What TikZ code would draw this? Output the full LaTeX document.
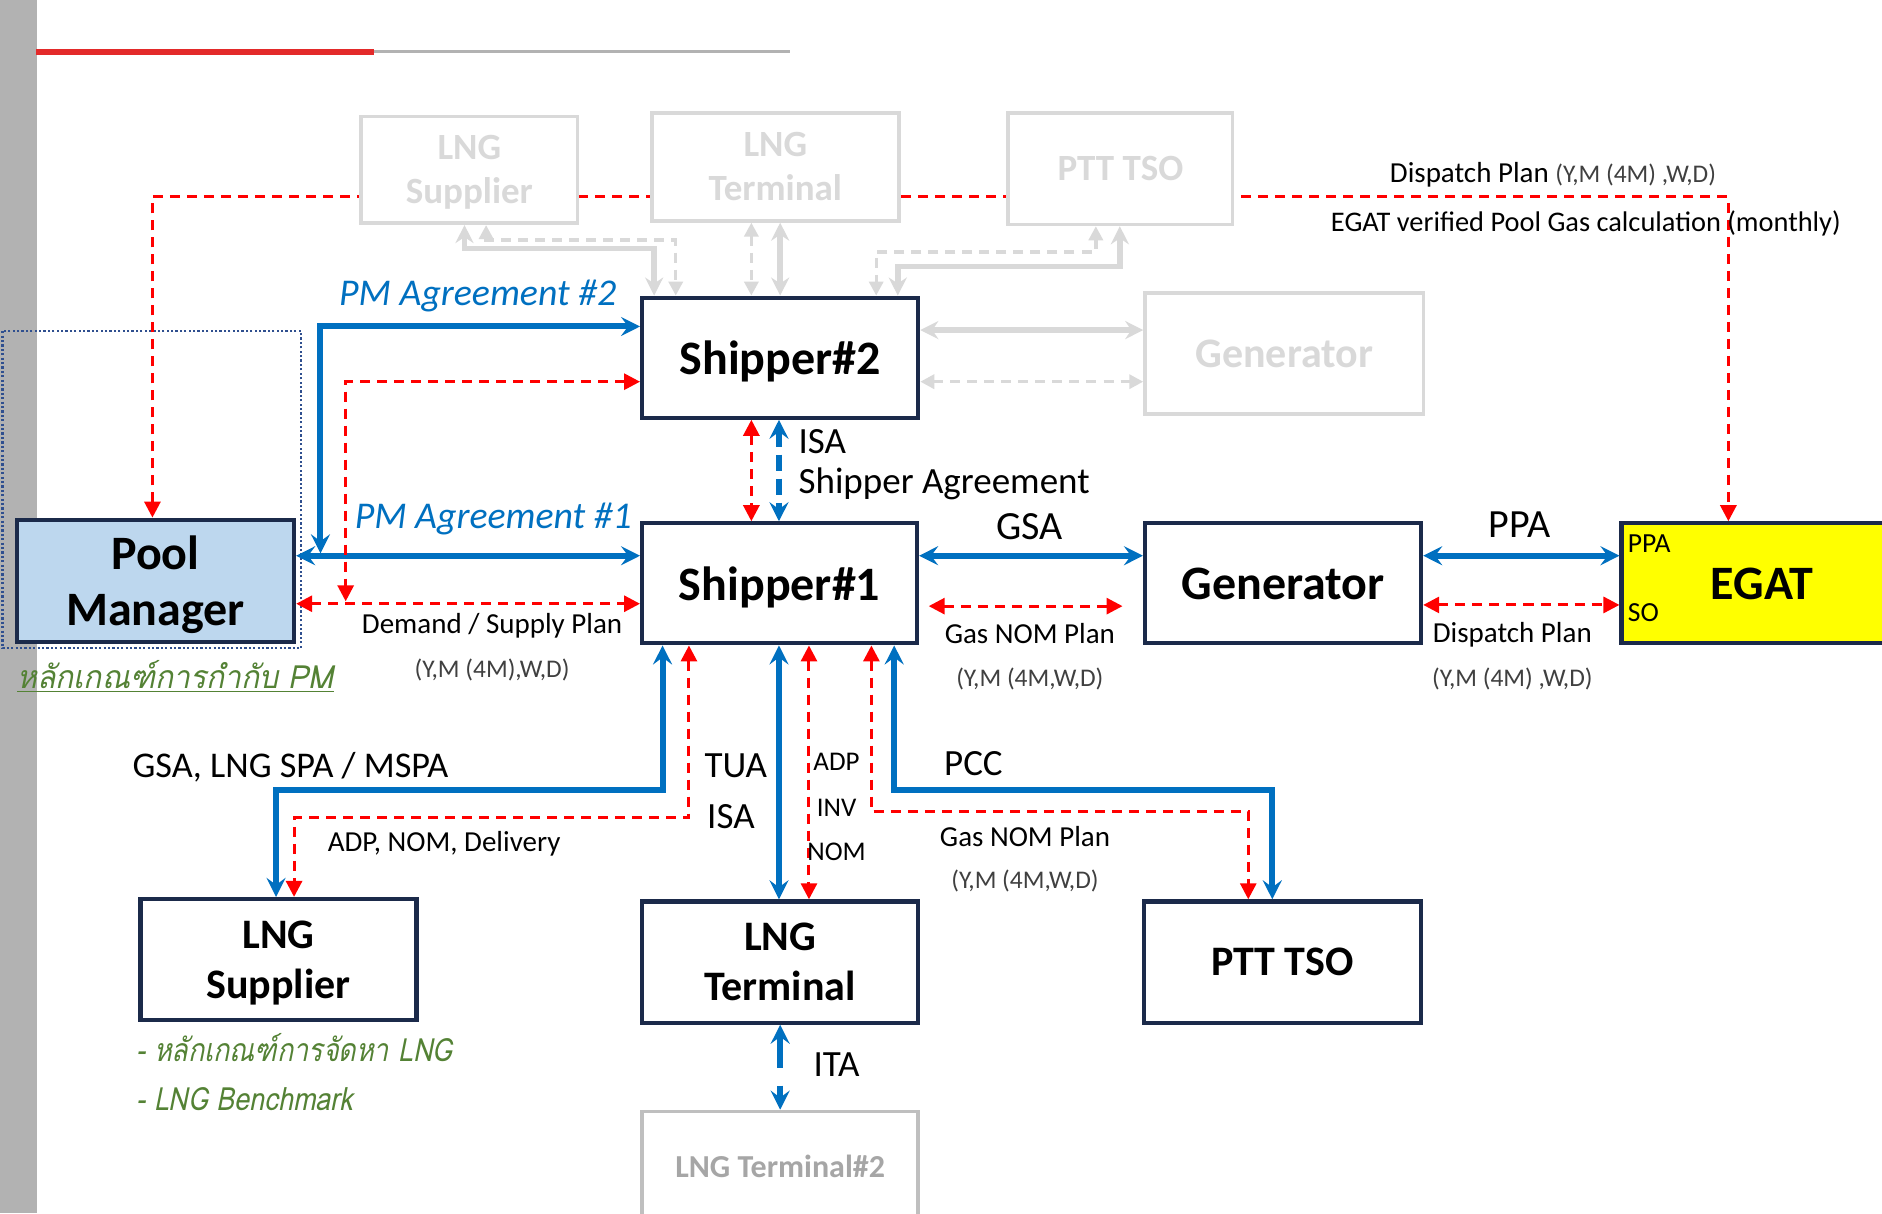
\documentclass[tikz,border=0pt]{standalone}
\usepackage{fontspec}
\setmainfont{Carlito}
\newfontfamily\thaiA[Script=Thai,FakeSlant=0.2,FakeStretch=0.94]{Loma}
\newfontfamily\thaiB[Script=Thai,FakeSlant=0.2,FakeStretch=0.84]{Loma}
\usetikzlibrary{arrows.meta,calc}
\definecolor{myblue}{HTML}{0070C0}
\definecolor{myred}{HTML}{FF0000}
\definecolor{navy}{HTML}{1B2A4A}
\definecolor{dotblue}{HTML}{2F4F8F}
\definecolor{faded}{HTML}{D9D9D9}
\definecolor{pmfill}{HTML}{BDD7EE}
\definecolor{egatfill}{HTML}{FFFF00}
\definecolor{pmgreen}{HTML}{548235}
\definecolor{pgray}{HTML}{404040}
\definecolor{ltgray}{HTML}{BFBFBF}
\definecolor{lttext}{HTML}{A6A6A6}
\definecolor{barcol}{HTML}{B2B2B2}
\definecolor{topred}{HTML}{E32A2A}
\newcommand\fsz[2]{\fontsize{#1}{#2}\selectfont}
\tikzset{
  box/.style={draw=navy, line width=2.1pt, fill=white, inner sep=0pt, align=center, text depth=0pt, font=\bfseries\fsz{24pt}{28pt}},
  sbox/.style={box, font=\bfseries\fsz{21pt}{25pt}},
  fadedbox/.style={draw=faded, line width=1.8pt, fill=white, inner sep=0pt, align=center, text depth=0pt, text=faded, font=\bfseries\fsz{18.5pt}{22pt}},
  btip/.tip={Stealth[length=9.5pt,width=9.5pt,inset=3.5pt]},
  rtip/.tip={Triangle[length=8pt,width=8pt]},
  gtip/.tip={Stealth[length=9pt,width=9pt,inset=3pt]},
  gdtip/.tip={Triangle[length=7pt,width=7pt]},
  bl/.style={draw=myblue, line width=3pt, btip-btip},
  bld/.style={bl, dash pattern=on 8pt off 4pt},
  rd/.style={draw=myred, line width=1.5pt, dash pattern=on 5pt off 3.5pt, rtip-rtip},
  gs/.style={draw=faded, line width=2.8pt, gtip-gtip},
  gd/.style={draw=faded, line width=1.7pt, dash pattern=on 5pt off 3.5pt, gdtip-gdtip},
  lab/.style={inner sep=0pt},
  pmag/.style={lab, text=myblue, font=\itshape\fsz{18.9pt}{22pt}},
  big/.style={lab, font=\fsz{18.5pt}{22pt}},
  mid/.style={lab, font=\fsz{14.5pt}{17pt}},
  par/.style={lab, text=pgray, font=\fsz{12.7pt}{15pt}},
  tiny/.style={lab, font=\fsz{13.5pt}{16pt}},
  thai/.style={lab, text=pmgreen, anchor=west}
}
\begin{document}
\begin{tikzpicture}[x=0.6pt, y=-0.6pt]
\useasboundingbox (0,0) rectangle (1568,1011);
\clip (0,0) rectangle (1568,1011);
\fill[white] (0,0) rectangle (1568,1011);
% side bar and header rule
\fill[barcol] (0,0) rectangle (31,1011);
\draw[topred, line width=3pt] (30,43) -- (312,43);
\draw[barcol, line width=1.2pt] (312,43) -- (658,43);
% dotted frame round Pool Manager
\draw[dotblue, line width=1.1pt, dash pattern=on 1.1pt off 1.1pt] (2,276) rectangle (251,540);

% main boxes (named first so connectors can use them)
\node[box, fill=pmfill, minimum width=138.6pt, minimum height=61.2pt] (pm) at (129.5,484) {Pool\\Manager};
\node[box, fill=egatfill, minimum width=140.4pt, minimum height=60pt] (egat) at (1468,486) {EGAT};

% top red dashed line (behind faded boxes)
\draw[rd] (127,0 |- pm.north) -- (127,164) -- (1440,164) -- (1440,0 |- egat.north);

% faded boxes
\node[fadedbox, minimum width=108pt, minimum height=53.4pt] (fsup) at (391,141.5) {LNG\\Supplier};
\node[fadedbox, minimum width=123.6pt, minimum height=54pt] (fterm) at (646,139) {LNG\\Terminal};
\node[fadedbox, minimum width=112.2pt, minimum height=55.8pt] (fptt) at (933.5,140.5) {PTT TSO};
\node[fadedbox, font=\bfseries\fsz{21pt}{25pt}, minimum width=139.2pt, minimum height=60.6pt] (fgen) at (1070,294.5) {Generator};

\node[box, minimum width=138pt, minimum height=60pt] (s2) at (650,298) {Shipper\#2};
\node[box, minimum width=137.4pt, minimum height=60pt] (s1) at (649.5,486) {Shipper\#1};
\node[box, minimum width=138pt, minimum height=60pt] (gen) at (1069,486) {Generator};
\node[sbox, minimum width=138pt, minimum height=60.6pt] (lsup) at (232,799.5) {LNG\\Supplier};
\node[sbox, minimum width=138pt, minimum height=60.6pt] (lterm) at (650,801.5) {LNG\\Terminal};
\node[sbox, minimum width=138.6pt, minimum height=60.6pt] (ptt) at (1068.5,801.5) {PTT TSO};
\node[draw=ltgray, line width=1.8pt, fill=white, inner sep=0pt, text=lttext, font=\bfseries\fsz{16pt}{19pt}, minimum width=138pt, minimum height=55.2pt] (lt2) at (650,972) {LNG Terminal\#2};

% gray connectors to faded boxes
\draw[gs] (387,0 |- fsup.south) -- (387,207) -- (545,207) -- (545,0 |- s2.north);
\draw[gd] (405,0 |- fsup.south) -- (405,200) -- (563,200) -- (563,0 |- s2.north);
\draw[gd] (626,0 |- fterm.south) -- (626,0 |- s2.north);
\draw[gs] (650,0 |- fterm.south) -- (650,0 |- s2.north);
\draw[gs] (933,0 |- fptt.south) -- (933,222) -- (748,222) -- (748,0 |- s2.north);
\draw[gd] (913,0 |- fptt.south) -- (913,210) -- (730,210) -- (730,0 |- s2.north);
\draw[gs] (s2.east |- 0,275) -- (fgen.west |- 0,275);
\draw[gd] (s2.east |- 0,318) -- (fgen.west |- 0,318);

% Pool Manager connectors
\coordinate (j2) at (267,461);
\draw[bl] (s2.west |- 0,272) -- (267,272) -- (j2);
\draw[bl] (pm.east |- 0,463) -- (s1.west |- 0,463);
\coordinate (j1) at (288,501);
\draw[rd] (s2.west |- 0,318) -- (288,318) -- (j1);
\draw[rd] (pm.east |- 0,503) -- (s1.west |- 0,503);

% Shipper#2 - Shipper#1
\draw[rd] (626,0 |- s2.south) -- (626,0 |- s1.north);
\draw[bld] (649,0 |- s2.south) -- (649,0 |- s1.north);

% Shipper#1 - Generator - EGAT
\draw[bl] (s1.east |- 0,463) -- (gen.west |- 0,463);
\draw[rd] ($(s1.east |- 0,505)+(8,0)$) -- ($(gen.west |- 0,505)+(-17,0)$);
\draw[bl] (gen.east |- 0,463) -- (egat.west |- 0,463);
\draw[rd] (gen.east |- 0,504) -- (egat.west |- 0,504);

% Shipper#1 - LNG Supplier
\draw[bl] (552,0 |- s1.south) -- (552,658) -- (230,658) -- (230,0 |- lsup.north);
\draw[rd] (574,0 |- s1.south) -- (574,681) -- (245,681) -- (245,0 |- lsup.north);
% Shipper#1 - LNG Terminal
\draw[bl] (649,0 |- s1.south) -- (649,0 |- lterm.north);
\draw[rd] (674,0 |- s1.south) -- (674,0 |- lterm.north);
% Shipper#1 - PTT TSO
\draw[bl] (745,0 |- s1.south) -- (745,658) -- (1060,658) -- (1060,0 |- ptt.north);
\draw[rd] (726,0 |- s1.south) -- (726,676) -- (1040,676) -- (1040,0 |- ptt.north);
% LNG Terminal - LNG Terminal#2
\draw[bl, dash pattern=on 16pt off 9pt] (650,0 |- lterm.south) -- (650,0 |- lt2.north);

% labels
\node[mid, anchor=east] (dp1) at (1430,146) {Dispatch Plan {\color{pgray}\fsz{12.7pt}{15pt}(Y,M (4M) ,W,D)}};
\node[mid, anchor=east, font=\fsz{14.2pt}{17pt}] (ev) at (1534,186) {EGAT verified Pool Gas calculation (monthly)};
\node[pmag] (l2) at (398,247) {PM Agreement \#2};
\node[pmag] (l1) at (411,432) {PM Agreement \#1};
\node[mid] (dsp) at (410,521) {Demand / Supply Plan};
\node[par] (dsp2) at (410,558) {(Y,M (4M),W,D)};
\node[big, anchor=west] (isa1) at (665,368) {ISA};
\node[big, anchor=west] (sha) at (665,403) {Shipper Agreement};
\node[lab, font=\fsz{20pt}{24pt}] (gsa) at (858,439) {GSA};
\node[mid] (gnp) at (858,528) {Gas NOM Plan};
\node[par] (gnp2) at (858,566) {(Y,M (4M,W,D)};
\node[lab, font=\fsz{20pt}{24pt}] (ppa) at (1266,437) {PPA};
\node[mid] (dp2) at (1260,529) {Dispatch Plan};
\node[par] (dp3) at (1260,566) {(Y,M (4M) ,W,D)};
\node[lab, font=\fsz{13.8pt}{16pt}, anchor=west] (eppa) at (1356,453) {PPA};
\node[lab, font=\fsz{13.8pt}{16pt}, anchor=west] (eso) at (1356,510) {SO};
\node[lab, font=\fsz{18.1pt}{21pt}] (gsl) at (242,639) {GSA, LNG SPA / MSPA};
\node[mid] (anl) at (370,703) {ADP, NOM, Delivery};
\node[big] (tua) at (613,638) {TUA};
\node[big] (isa2) at (609,680) {ISA};
\node[tiny] (adp) at (697,635) {ADP};
\node[tiny] (inv) at (697,673) {INV};
\node[tiny] (nom) at (697,710) {NOM};
\node[big] (pcc) at (811,636) {PCC};
\node[mid] (gnp3) at (854,697) {Gas NOM Plan};
\node[par] (gnp4) at (854,734) {(Y,M (4M,W,D)};
\node[big] (ita) at (697,887) {ITA};
\node[thai, font=\thaiA\fsz{16pt}{19pt}] (thpm) at (14,564) {\underline{หลักเกณฑ์การกำกับ PM}};
\node[thai, font=\thaiB\fsz{16pt}{19pt}] (thlng) at (113,873) {- หลักเกณฑ์การจัดหา LNG};
\node[thai, font=\thaiB\fsz{16pt}{19pt}] (thbm) at (113,916) {- LNG Benchmark};
\end{tikzpicture}
\end{document}
